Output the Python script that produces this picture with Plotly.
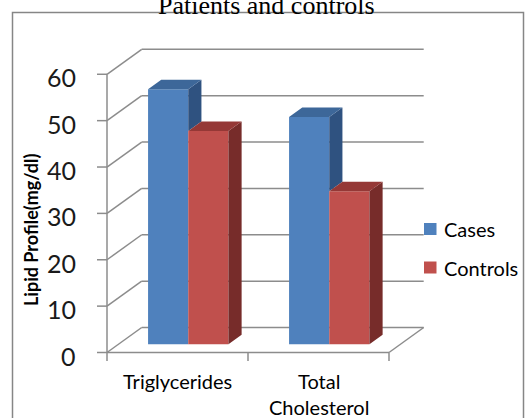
import plotly.graph_objects as go

# ---- data -------------------------------------------------------------
categories = ["Triglycerides", "Total<br>Cholesterol"]
series_names = ["Cases", "Controls"]
cases = [55, 49]
controls = [46, 33]
y_ticks = [0, 10, 20, 30, 40, 50, 60]
y_title = "Lipid Profile(mg/dl)"
chart_title = "Patients and controls"

# ---- styling ----------------------------------------------------------
front_colors = ["#4F81BD", "#C0504D"]
top_colors = ["#3D6799", "#953836"]
side_colors = ["#2F5280", "#772C2A"]
grid_color = "#8C8C8C"
label_font = "Lato"

W, H = 526, 418
# oblique projection of the 3-D box onto the page
X0_PX, CAT_PX = 107, 141        # front-left corner, width of one category (px)
Y0_PX, UNIT_PX = 352.5, 4.637   # front floor line, px per mg/dl
DEPTH_X = 34.7 / CAT_PX         # full box depth, in category units
DEPTH_Y = 25.0 / UNIT_PX        # full box depth, in value units
F_FRONT, F_BACK = 0.33, 0.71    # depth slot occupied by the bars
BAR_START, BAR_W = 0.21, 0.285  # bar placement inside a category

n_cat = len(categories)
values = [cases, controls]

fig = go.Figure()

# front faces as real bars, lifted/shifted to the bar depth slot
bx = F_FRONT * DEPTH_X
by = F_FRONT * DEPTH_Y
ddx = (F_BACK - F_FRONT) * DEPTH_X
ddy = (F_BACK - F_FRONT) * DEPTH_Y
for k, (name, vals) in enumerate(zip(series_names, values)):
    fig.add_trace(go.Bar(
        x=[i + bx + BAR_START + k * BAR_W + BAR_W / 2 for i in range(n_cat)],
        y=vals, base=by, width=BAR_W, name=name,
        marker=dict(color=front_colors[k], line=dict(width=0)),
        showlegend=False, hoverinfo="skip",
    ))

# top and right-side faces
for k, vals in enumerate(values):
    tx, ty, sx, sy = [], [], [], []
    for i, v in enumerate(vals):
        xl = i + bx + BAR_START + k * BAR_W
        xr = xl + BAR_W
        top = v + by
        tx += [xl, xr, xr + ddx, xl + ddx, xl, None]
        ty += [top, top, top + ddy, top + ddy, top, None]
        # the part of a side face below the neighbour on its right is hidden
        lo = 0
        if k + 1 < len(values):
            lo = min(v, values[k + 1][i])
        sx += [xr, xr, xr + ddx, xr + ddx, xr, None]
        sy += [by + lo, top, top + ddy, by + lo + ddy, by + lo, None]
    fig.add_trace(go.Scatter(x=sx, y=sy, fill="toself", mode="lines",
                             line=dict(width=0), fillcolor=side_colors[k],
                             showlegend=False, hoverinfo="skip"))
    fig.add_trace(go.Scatter(x=tx, y=ty, fill="toself", mode="lines",
                             line=dict(width=0), fillcolor=top_colors[k],
                             showlegend=False, hoverinfo="skip"))

# walls, floor and axis lines (behind the bars)
shapes = []
line = dict(color=grid_color, width=1.5)


def seg(x0, y0, x1, y1):
    shapes.append(dict(type="line", xref="x", yref="y", x0=x0, y0=y0,
                       x1=x1, y1=y1, line=line, layer="below"))


for v in y_ticks:
    seg(0, v, DEPTH_X, v + DEPTH_Y)                          # side wall
    seg(DEPTH_X, v + DEPTH_Y, n_cat + DEPTH_X, v + DEPTH_Y)  # back wall
    seg(-10 / CAT_PX, v, 0, v)                               # tick mark
seg(0, 0, n_cat, 0)                                          # floor front edge
seg(n_cat, 0, n_cat + DEPTH_X, DEPTH_Y)                      # floor right edge
seg(0, 0, 0, y_ticks[-1])                                    # value axis
for i in range(n_cat + 1):
    seg(i, 0, i, -8.5 / UNIT_PX)                             # category ticks

# outer frame
shapes.append(dict(type="rect", xref="paper", yref="paper",
                   x0=12.5 / W, x1=523.5 / W, y0=-0.1, y1=1 - 12.5 / H,
                   line=dict(color="#868686", width=1.5), layer="above"))

# legend keys
legend_y = [229, 267.5]
for k, name in enumerate(series_names):
    yc = 1 - legend_y[k] / H
    shapes.append(dict(type="rect", xref="paper", yref="paper",
                       x0=424 / W, x1=436.5 / W,
                       y0=yc - 6 / H, y1=yc + 6 / H,
                       fillcolor=front_colors[k], line=dict(width=0)))

annotations = []
for v in y_ticks:
    annotations.append(dict(x=0, y=v, xref="x", yref="y", text=str(v),
                            showarrow=False, xanchor="right", yanchor="middle",
                            xshift=-29, yshift=-3,
                            font=dict(family=label_font, size=25, color="#1a1a1a")))
for i, c in enumerate(categories):
    annotations.append(dict(x=i + 0.5, y=0, xref="x", yref="y", text=c,
                            showarrow=False, xanchor="center", yanchor="top",
                            yshift=-14,
                            font=dict(family=label_font, size=20, color="#000000")))
for k, name in enumerate(series_names):
    annotations.append(dict(x=442 / W, y=1 - legend_y[k] / H, xref="paper",
                            yref="paper", text=name, showarrow=False,
                            xanchor="left", yanchor="middle",
                            font=dict(family=label_font, size=20, color="#000000")))
annotations.append(dict(x=31 / W, y=1 - 230 / H, xref="paper", yref="paper",
                        text="<b>" + y_title + "</b>", textangle=-90,
                        showarrow=False, xanchor="center", yanchor="middle",
                        font=dict(family=label_font, size=18, color="#000000")))
annotations.append(dict(x=266 / W, y=1 - 5 / H, xref="paper", yref="paper",
                        text=chart_title, showarrow=False,
                        xanchor="center", yanchor="middle",
                        font=dict(family="Liberation Serif", size=26,
                                  color="#000000")))

fig.update_layout(
    width=W, height=H,
    margin=dict(l=0, r=0, t=0, b=0),
    paper_bgcolor="white", plot_bgcolor="white",
    barmode="overlay",
    xaxis=dict(range=[-X0_PX / CAT_PX, (W - X0_PX) / CAT_PX], visible=False,
               fixedrange=True),
    yaxis=dict(range=[(Y0_PX - H) / UNIT_PX, Y0_PX / UNIT_PX], visible=False,
               fixedrange=True),
    shapes=shapes, annotations=annotations,
    showlegend=False,
)

fig.write_html("out.html")
